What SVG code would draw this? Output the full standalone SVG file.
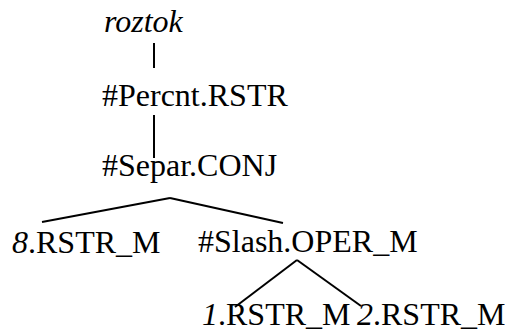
<svg xmlns="http://www.w3.org/2000/svg" width="505" height="331" viewBox="0 0 505 331">
<rect width="505" height="331" fill="#fff"/>
<g id="connectors" stroke="#000" stroke-width="2">
<line x1="154" y1="43" x2="154" y2="68"/>
<line x1="154" y1="115" x2="154" y2="158"/>
<line x1="170" y1="198" x2="42" y2="222"/>
<line x1="170" y1="198" x2="283" y2="223"/>
<line x1="297" y1="260" x2="235" y2="307"/>
<line x1="297" y1="260" x2="361" y2="306"/>
</g>
<g font-family="Times New Roman" font-size="32" fill="#000">
<g id="n-roztok"><text x="104" y="32" font-family="Times New Roman" font-style="italic">roztok</text></g>
<g id="n-percnt"><text x="102" y="106" font-family="Times New Roman">#Percnt.RSTR</text></g>
<g id="n-separ"><text x="102" y="176" font-family="Times New Roman">#Separ.CONJ</text></g>
<g id="n-8"><text x="12" y="253" font-family="Times New Roman"><tspan font-style="italic">8</tspan>.RSTR_M</text></g>
<g id="n-slash"><text x="198" y="252" font-family="Times New Roman">#Slash.OPER_M</text></g>
<g id="n-1"><text x="202" y="325" font-family="Times New Roman"><tspan font-style="italic">1</tspan>.RSTR_M</text></g>
<g id="n-2"><text x="357" y="325" font-family="Times New Roman"><tspan font-style="italic">2</tspan>.RSTR_M</text></g>
</g>
</svg>
